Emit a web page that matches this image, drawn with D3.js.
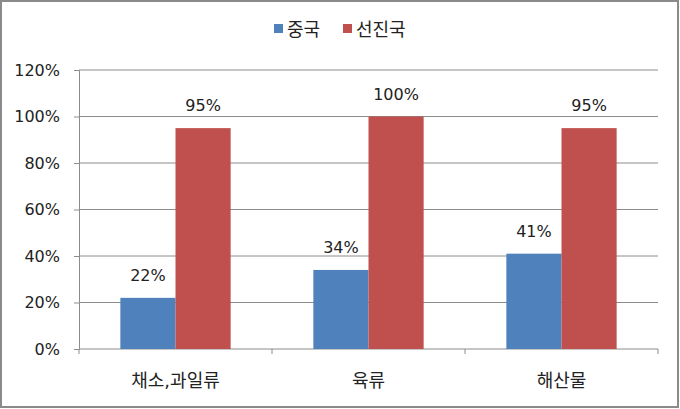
<!DOCTYPE html>
<html>
<head>
<meta charset="utf-8">
<script src="https://cdn.jsdelivr.net/npm/d3@7"></script>
<style>
  body { margin: 0; background: #fff; }
  svg { display: block; }
  text { font-family: "DejaVu Sans", "Noto Sans CJK KR", sans-serif; fill: #222; }
</style>
</head>
<body>
<svg width="680" height="409"></svg>
<script>
"use strict"

const categories = ["채소,과일류", "육류", "해산물"]
const seriesNames = ["중국", "선진국"]
const chinaValues = [22, 34, 41]
const advancedValues = [95, 100, 95]
const yTicks = [0, 20, 40, 60, 80, 100, 120]

const COLORS = ["#4f81bd", "#c0504d"]
const AXIS_COLOR = "#8c8c8c"

const svg = d3.select("svg")

// outer frame
svg.append("rect")
    .attr("x", 1).attr("y", 1)
    .attr("width", 677).attr("height", 406)
    .attr("fill", "#fff")
    .attr("stroke", "#8a8a8a")
    .attr("stroke-width", 2)

const margin = { left: 79, right: 22, top: 70, bottom: 60 }
const width = 680 - margin.left - margin.right
const height = 409 - margin.top - margin.bottom

const g = svg.append("g").attr("transform", `translate(${margin.left},${margin.top})`)

const x = d3.scaleBand().domain(categories).range([0, width]).paddingInner(0).paddingOuter(0)
const xInner = d3.scaleBand().domain(seriesNames).range([0, x.bandwidth()])
    .paddingInner(0).paddingOuter(0.75)
const y = d3.scaleLinear().domain([0, 120]).range([height, 0])

// gridlines
g.append("g")
    .selectAll("line")
    .data(yTicks.slice(1))
    .join("line")
    .attr("x1", 0).attr("x2", width)
    .attr("y1", (d) => y(d)).attr("y2", (d) => y(d))
    .attr("stroke", AXIS_COLOR)
    .attr("stroke-width", 1)

// y axis
const yAxis = g.append("g")
    .call(d3.axisLeft(y).tickValues(yTicks).tickSize(5).tickPadding(14).tickFormat((d) => d + "%"))
yAxis.select(".domain").attr("stroke", AXIS_COLOR)
yAxis.selectAll(".tick line").attr("stroke", AXIS_COLOR)
yAxis.selectAll("text")
    .style("font-family", "'DejaVu Sans', sans-serif")
    .style("font-size", "16px")
    .attr("fill", "#222")

// x axis with ticks at category boundaries
const xAxisG = g.append("g").attr("transform", `translate(0,${height})`)
xAxisG.append("line")
    .attr("x1", 0).attr("x2", width)
    .attr("stroke", AXIS_COLOR)
xAxisG.selectAll(".bound")
    .data(d3.range(categories.length + 1))
    .join("line")
    .attr("class", "bound")
    .attr("x1", (i) => i * x.bandwidth()).attr("x2", (i) => i * x.bandwidth())
    .attr("y1", 0).attr("y2", 5)
    .attr("stroke", AXIS_COLOR)
xAxisG.selectAll("text")
    .data(categories)
    .join("text")
    .attr("x", (d) => x(d) + x.bandwidth() / 2)
    .attr("y", 38)
    .attr("text-anchor", "middle")
    .style("font-size", "18px")
    .text((d) => d)

// bars
const rows = categories.map((c, i) => ({
    category: c,
    values: [chinaValues[i], advancedValues[i]]
}))

const groups = g.selectAll(".grp")
    .data(rows)
    .join("g")
    .attr("class", "grp")
    .attr("transform", (d) => `translate(${x(d.category)},0)`)

groups.selectAll("rect")
    .data((d) => d.values.map((v, j) => ({ name: seriesNames[j], value: v, j })))
    .join("rect")
    .attr("x", (d) => xInner(d.name))
    .attr("width", xInner.bandwidth())
    .attr("y", (d) => y(d.value))
    .attr("height", (d) => height - y(d.value))
    .attr("fill", (d) => COLORS[d.j])

groups.selectAll(".lbl")
    .data((d) => d.values.map((v, j) => ({ name: seriesNames[j], value: v })))
    .join("text")
    .attr("class", "lbl")
    .attr("x", (d) => xInner(d.name) + xInner.bandwidth() / 2)
    .attr("y", (d) => y(d.value) - 17)
    .attr("text-anchor", "middle")
    .style("font-size", "16px")
    .text((d) => d.value + "%")

// legend
const legendX = [274, 343]
const legend = svg.append("g")
legend.selectAll("rect")
    .data(seriesNames)
    .join("rect")
    .attr("x", (d, i) => legendX[i])
    .attr("y", 24)
    .attr("width", 9).attr("height", 9)
    .attr("fill", (d, i) => COLORS[i])
legend.selectAll("text")
    .data(seriesNames)
    .join("text")
    .attr("x", (d, i) => legendX[i] + 13)
    .attr("y", 36)
    .style("font-size", "18px")
    .text((d) => d)
</script>
</body>
</html>
